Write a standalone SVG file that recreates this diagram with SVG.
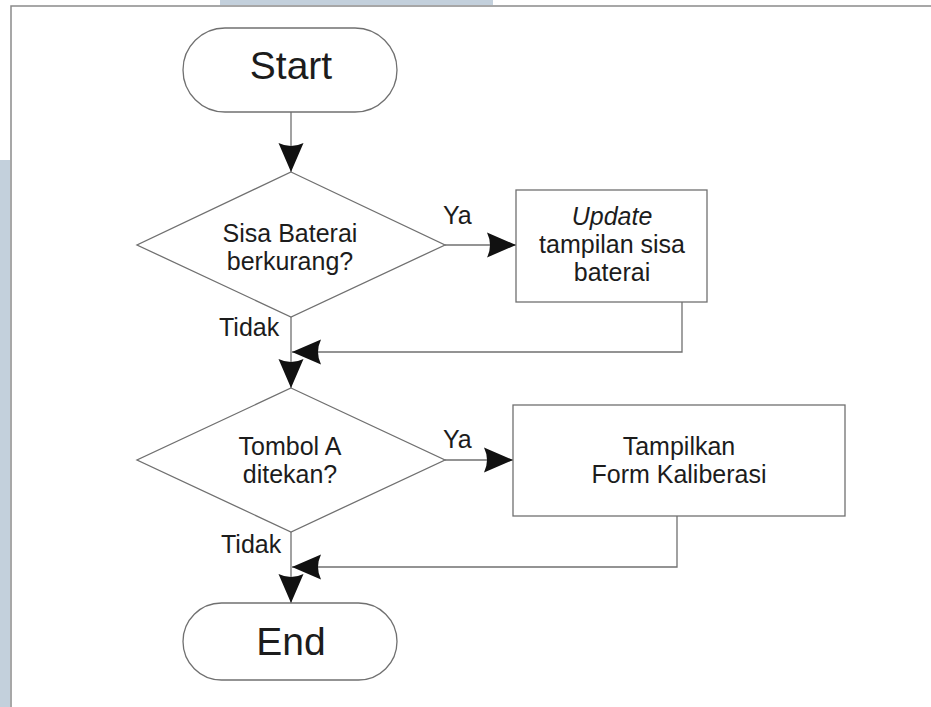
<svg xmlns="http://www.w3.org/2000/svg" width="931" height="707" viewBox="0 0 931 707">
<style>
.shape{fill:#ffffff;stroke:#707070;stroke-width:1.3}
.line{fill:none;stroke:#707070;stroke-width:1.3}
.t{font-family:"Liberation Sans",Arial,sans-serif;fill:#1c1c1c;text-anchor:middle}
.big{font-size:39px}
.mid{font-size:25px}
.lbl{font-size:25px;text-anchor:start}
</style>
<defs>
<marker id="ah" markerUnits="userSpaceOnUse" markerWidth="32" markerHeight="28" viewBox="0 -14 32 28" refX="29" refY="0" orient="auto">
<path d="M0,-12.5 L29,0 L0,12.5 Q6,0 0,-12.5 Z" fill="#111"/>
</marker>
</defs>
<rect x="0" y="0" width="931" height="707" fill="#ffffff"/>
<rect x="220" y="0" width="273" height="5" fill="#c3d0dc"/>
<rect x="0" y="160" width="10" height="547" fill="#c3d0dc"/>
<path d="M11,707 V6 H931" fill="none" stroke="#8a8a8a" stroke-width="1.5"/>

<g id="connectors">
<path class="line" d="M291,112 V172" marker-end="url(#ah)"/>
<path class="line" d="M445,245 H516" marker-end="url(#ah)"/>
<path class="line" d="M682,302 V352 H292" marker-end="url(#ah)"/>
<path class="line" d="M291,317 V388" marker-end="url(#ah)"/>
<path class="line" d="M445,460 H513" marker-end="url(#ah)"/>
<path class="line" d="M677,516 V567 H292" marker-end="url(#ah)"/>
<path class="line" d="M291,532 V603" marker-end="url(#ah)"/>
<text class="t lbl" x="443" y="224">Ya</text>
<text class="t lbl" x="219" y="336">Tidak</text>
<text class="t lbl" x="443" y="448">Ya</text>
<text class="t lbl" x="221" y="553">Tidak</text>
</g>

<g id="start">
<rect class="shape" x="183" y="28" width="214" height="84" rx="42" ry="42"/>
<text class="t big" x="291" y="79">Start</text>
</g>

<g id="decision1">
<polygon class="shape" points="291,172 445,245 291,317 137,245"/>
<text class="t mid" x="290" y="242">Sisa Baterai</text>
<text class="t mid" x="290" y="270">berkurang?</text>
</g>

<g id="update">
<rect class="shape" x="516" y="190" width="191" height="112"/>
<text class="t mid" x="612" y="225" font-style="italic">Update</text>
<text class="t mid" x="612" y="253">tampilan sisa</text>
<text class="t mid" x="612" y="281">baterai</text>
</g>

<g id="decision2">
<polygon class="shape" points="291,388 445,460 291,532 137,460"/>
<text class="t mid" x="290" y="455">Tombol A</text>
<text class="t mid" x="290" y="483">ditekan?</text>
</g>

<g id="kalibrasi">
<rect class="shape" x="513" y="405" width="332" height="111"/>
<text class="t mid" x="679" y="455">Tampilkan</text>
<text class="t mid" x="679" y="483">Form Kaliberasi</text>
</g>

<g id="end">
<rect class="shape" x="183" y="603" width="214" height="77" rx="38.5" ry="38.5"/>
<text class="t big" x="291" y="655">End</text>
</g>
</svg>
